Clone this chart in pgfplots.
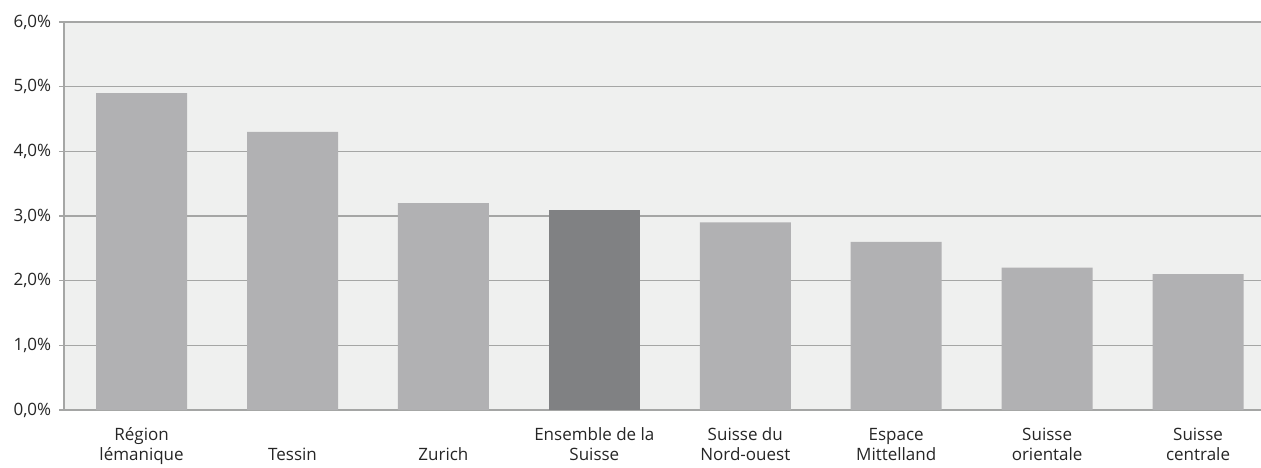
\documentclass[border=0pt]{standalone}
\usepackage{pgfplots}
\pgfplotsset{compat=1.18}
\usepackage{fontspec}
\setmainfont{Open Sans}
\definecolor{bg}{HTML}{EFF0EF}
\definecolor{barg}{HTML}{B1B1B3}
\definecolor{bard}{HTML}{808183}
\definecolor{gridg}{HTML}{A5A6A5}
\begin{document}
\fontsize{17}{20}\selectfont
\begin{tikzpicture}
\begin{axis}[
  scale only axis, width=1197pt, height=388pt,
  xmin=-0.514, xmax=7.417, ymin=0, ymax=6,
  axis lines*=left,
  axis line style={draw=gridg, line width=1.3pt},
  axis background/.style={fill=bg},
  ymajorgrids, grid style={draw=gridg, line width=1.3pt},
  ytick={0,1,2,3,4,5,6},
  yticklabel={\pgfmathprintnumber[fixed,fixed zerofill,precision=1,use comma]{\tick}\%},
  /pgf/number format/assume math mode=true,
  yticklabel style={font=\fontsize{17}{20}\selectfont, xshift=-2pt, text=black!85},
  ytick style={draw=gridg, line width=1.3pt},
  major tick length=5pt, tick align=outside,
  xtick={0,...,7},
  xticklabels={{Région\\lémanique},{\vphantom{Région}\\Tessin},{\vphantom{Région}\\Zurich},{Ensemble de la\\Suisse},{Suisse du\\Nord-ouest},{Espace\\Mittelland},{Suisse\\orientale},{Suisse\\centrale}},
  xticklabel style={align=center, font=\fontsize{17}{20}\selectfont, yshift=-7pt, text=black!85},
  xtick style={draw=none},
  bar width=0.603,
  clip=false,
]
\addplot[ybar, bar shift=0pt, fill=barg, draw=none] coordinates {(0,4.9) (1,4.3) (2,3.2) (4,2.9) (5,2.6) (6,2.2) (7,2.1)};
\addplot[ybar, bar shift=0pt, fill=bard, draw=none] coordinates {(3,3.1)};
\end{axis}
\pgfresetboundingbox
\path[use as bounding box] ([xshift=-64pt,yshift=22pt]current axis.north west) rectangle ([yshift=-57pt]current axis.south east);
\end{tikzpicture}
\end{document}
